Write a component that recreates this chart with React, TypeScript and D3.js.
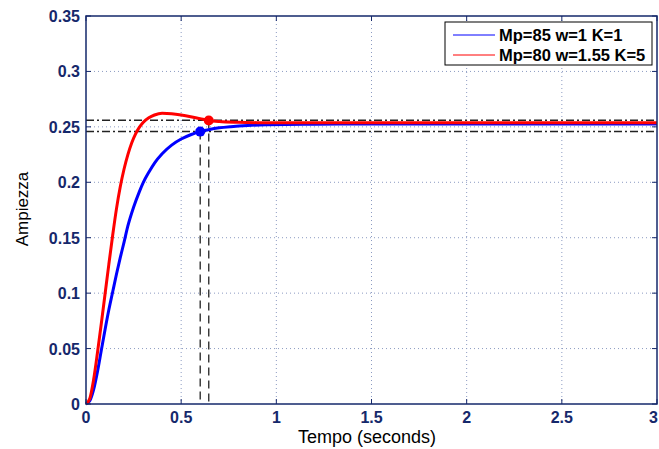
import React from 'react';
import * as d3 from 'd3';

// Blue series: Mp=85 w=1 K=1
const timeBlue = [0, 0.02, 0.04, 0.06, 0.08, 0.10, 0.12, 0.14, 0.16, 0.18, 0.20, 0.22, 0.25, 0.28, 0.30, 0.33, 0.36, 0.40, 0.45, 0.50, 0.55, 0.60, 0.65, 0.70, 0.76, 0.85, 0.95, 1.05, 1.2, 1.5, 2.0, 2.5, 3.0];
const ampBlue = [0, 0.003, 0.013, 0.029, 0.048, 0.067, 0.085, 0.101, 0.117, 0.132, 0.146, 0.1606, 0.1775, 0.1914, 0.1995, 0.209, 0.2173, 0.2257, 0.2335, 0.239, 0.2429, 0.2457, 0.2477, 0.2491, 0.2502, 0.2513, 0.2519, 0.2522, 0.2524, 0.2525, 0.2525, 0.2525, 0.2525];

// Red series: Mp=80 w=1.55 K=5
const timeRed = [0, 0.02, 0.04, 0.06, 0.08, 0.10, 0.12, 0.14, 0.16, 0.18, 0.20, 0.22, 0.24, 0.26, 0.28, 0.30, 0.33, 0.36, 0.40, 0.45, 0.50, 0.55, 0.60, 0.645, 0.70, 0.80, 0.90, 1.0, 1.5, 2.0, 2.5, 3.0];
const ampRed = [0, 0.005, 0.022, 0.046, 0.072, 0.099, 0.126, 0.152, 0.176, 0.196, 0.212, 0.225, 0.2355, 0.2435, 0.2495, 0.254, 0.2582, 0.2607, 0.2622, 0.2618, 0.2607, 0.2592, 0.2574, 0.2558, 0.2548, 0.2541, 0.2538, 0.2537, 0.2537, 0.2537, 0.2537, 0.2537];

const xTicks = [0, 0.5, 1, 1.5, 2, 2.5, 3];
const yTicks = [0, 0.05, 0.1, 0.15, 0.2, 0.25, 0.3, 0.35];
const legendLabels = ['Mp=85 w=1 K=1', 'Mp=80 w=1.55 K=5'];
const seriesColors = ['#0000ff', '#ff0000'];
const bandLevels = [0.256, 0.2458];
const settleTimes = [0.6, 0.645];
const settleValues = [0.2457, 0.2558];

const W = 659;
const H = 449;
const L = 86, R = 657, T = 16, B = 404;
const AXIS = '#15286b';
const GRID = '#8c9bc2';

export default function App() {
  const x = d3.scaleLinear().domain([0, 3]).range([L, R]);
  const y = d3.scaleLinear().domain([0, 0.35]).range([B, T]);
  const line = d3.line<[number, number]>().x(d => x(d[0])).y(d => y(d[1])).curve(d3.curveMonotoneX);
  const series = [
    timeBlue.map((t, i) => [t, ampBlue[i]] as [number, number]),
    timeRed.map((t, i) => [t, ampRed[i]] as [number, number]),
  ];
  const fmt = (v: number) => String(+v.toFixed(2));
  const lastX = xTicks[xTicks.length - 1];
  return (
    <svg width={W} height={H} style={{ position: 'absolute', left: 0, top: 0, background: '#fff' }}
      fontFamily="'Liberation Sans', Arial, sans-serif">
      <rect x={0} y={0} width={W} height={H} fill="#fff" />
      {/* grid */}
      {xTicks.slice(1, -1).map(t => (
        <line key={'gx' + t} x1={x(t)} x2={x(t)} y1={T} y2={B} stroke={GRID} strokeWidth={1} strokeDasharray="1 3" />
      ))}
      {yTicks.slice(1, -1).map(t => (
        <line key={'gy' + t} x1={L} x2={R} y1={y(t)} y2={y(t)} stroke={GRID} strokeWidth={1} strokeDasharray="1 3" />
      ))}
      {/* settling band */}
      {bandLevels.map((b, i) => (
        <line key={'b' + i} x1={L} x2={R} y1={y(b)} y2={y(b)} stroke="#222" strokeWidth={1.5} strokeDasharray="8 3 2 3" />
      ))}
      {settleTimes.map((t, i) => (
        <line key={'v' + i} x1={x(t)} x2={x(t)} y1={y(settleValues[i])} y2={B} stroke="#222" strokeWidth={1.3} strokeDasharray="8 5" />
      ))}
      {/* curves */}
      {series.map((s, i) => (
        <path key={'s' + i} d={line(s) || ''} fill="none" stroke={seriesColors[i]} strokeWidth={3} />
      ))}
      {settleTimes.map((t, i) => (
        <circle key={'m' + i} cx={x(t)} cy={y(settleValues[i])} r={5} fill={seriesColors[i]} />
      ))}
      {/* frame */}
      <rect x={L} y={T} width={R - L} height={B - T} fill="none" stroke={AXIS} strokeWidth={1.5} />
      {xTicks.map(t => (
        <g key={'xt' + t}>
          <line x1={x(t)} x2={x(t)} y1={B} y2={B - 5} stroke={AXIS} />
          <line x1={x(t)} x2={x(t)} y1={T} y2={T + 5} stroke={AXIS} />
          <text x={t === lastX ? W - 1 : x(t)} y={423} textAnchor={t === lastX ? 'end' : 'middle'}
            fontSize={16} fontWeight="bold" fill={AXIS}>{fmt(t)}</text>
        </g>
      ))}
      {yTicks.map(t => (
        <g key={'yt' + t}>
          <line x1={L} x2={L + 5} y1={y(t)} y2={y(t)} stroke={AXIS} />
          <line x1={R} x2={R - 5} y1={y(t)} y2={y(t)} stroke={AXIS} />
          <text x={80} y={y(t) + 6} textAnchor="end" fontSize={16} fontWeight="bold" fill={AXIS}>{fmt(t)}</text>
        </g>
      ))}
      <text x={367} y={443} textAnchor="middle" fontSize={18} fill="#000">Tempo (seconds)</text>
      <text transform="translate(28,209) rotate(-90)" textAnchor="middle" fontSize={17} fill="#000">Ampiezza</text>
      {/* legend */}
      <rect x={445} y={22} width={207} height={43} fill="#fff" stroke="#000" strokeWidth={1} />
      {legendLabels.map((lab, i) => (
        <g key={'lg' + i}>
          <line x1={453} x2={495} y1={35 + i * 20} y2={35 + i * 20} stroke={seriesColors[i]} strokeWidth={1} />
          <text x={499} y={41 + i * 20} fontSize={16.5} fontWeight="bold" fill="#000">{lab}</text>
        </g>
      ))}
    </svg>
  );
}
